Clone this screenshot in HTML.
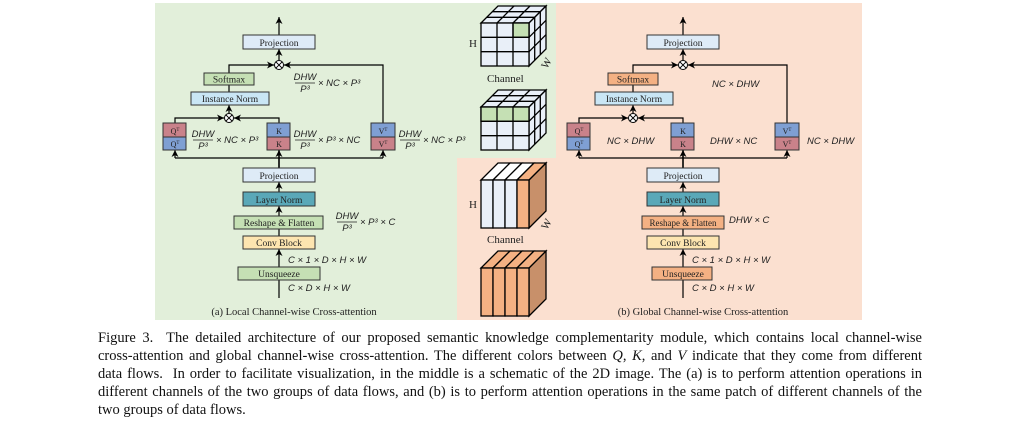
<!DOCTYPE html>
<html><head><meta charset="utf-8"><style>
body{margin:0;background:#fff;width:1018px;height:423px;overflow:hidden;position:relative;font-family:"Liberation Serif",serif}
svg{position:absolute;left:0;top:0}
.cap{position:absolute;left:98px;width:824px;top:329px;font-size:14.5px;line-height:18px;color:#111}
.cap div{text-align:justify;text-align-last:justify;white-space:nowrap;overflow:visible}
.cap div.l{text-align-last:left}
</style></head><body>
<svg width="1018" height="423" viewBox="0 0 1018 423" font-family="Liberation Serif, serif">
<defs>
<marker id="a" markerWidth="8" markerHeight="8" refX="7" refY="4" orient="auto" markerUnits="userSpaceOnUse"><path d="M0,0.5 L7,4 L0,7.5 L2,4z" fill="#000"/></marker>
<g id="ot"><circle cx="0" cy="0" r="4.5" fill="#fff" stroke="#000" stroke-width="1"/><path d="M-3.2,-3.2L3.2,3.2M-3.2,3.2L3.2,-3.2" stroke="#000" stroke-width="1"/></g>
</defs>
<rect x="155" y="3" width="401" height="155" fill="#e2efda"/>
<rect x="155" y="158" width="302" height="162" fill="#e2efda"/>
<rect x="556" y="3" width="306" height="317" fill="#fbe0d0"/>
<rect x="457" y="158" width="99" height="162" fill="#fbe0d0"/>

<g stroke="#000" stroke-width="1.2" fill="none">
<path d="M279,35 V17" marker-end="url(#a)"/>
<path d="M279,60 V49" marker-end="url(#a)"/>
<path d="M229,73 V65 H274" marker-end="url(#a)"/>
<path d="M383,123 V65 H284" marker-end="url(#a)"/>
<path d="M229,92 V85"/>
<path d="M229,113 V105" marker-end="url(#a)"/>
<path d="M175,123 V118 H224" marker-end="url(#a)"/>
<path d="M279,123 V118 H234" marker-end="url(#a)"/>
<path d="M175,158 H383"/>
<path d="M175,158 V150" marker-end="url(#a)"/>
<path d="M279,168 V150" marker-end="url(#a)" stroke-width="1.6"/>
<path d="M383,158 V150" marker-end="url(#a)"/>
<path d="M279,192 V182" marker-end="url(#a)"/>
<path d="M279,216 V206" marker-end="url(#a)"/>
<path d="M279,236 V229"/>
<path d="M279,267 V249" marker-end="url(#a)"/>
<path d="M279,298 V280"/>
</g>
<use href="#ot" x="279" y="65"/><use href="#ot" x="229" y="118"/>
<g stroke="#333" stroke-width="1">
<rect x="243" y="35" width="72" height="14" fill="#deebf7"/>
<rect x="204" y="73" width="50" height="12" fill="#c5e0b4"/>
<rect x="191" y="92" width="78" height="13" fill="#c9e6f5"/>
<rect x="163" y="123" width="23" height="14" fill="#c9828a"/><rect x="163" y="137" width="23" height="13" fill="#7f9fd3"/>
<rect x="267" y="123" width="23" height="14" fill="#7f9fd3"/><rect x="267" y="137" width="23" height="13" fill="#c9828a"/>
<rect x="371" y="123" width="24" height="14" fill="#7f9fd3"/><rect x="371" y="137" width="24" height="13" fill="#c9828a"/>
<rect x="243" y="168" width="72" height="14" fill="#deebf7"/>
<rect x="243" y="192" width="72" height="14" fill="#5aa8b8"/>
<rect x="234" y="216" width="89" height="13" fill="#c5e0b4"/>
<rect x="243" y="236" width="72" height="13" fill="#fde5b0"/>
<rect x="238" y="267" width="82" height="13" fill="#c5e0b4"/>
</g>
<g font-size="9.5" text-anchor="middle" fill="#222">
<text x="279" y="46">Projection</text>
<text x="229" y="82.5">Softmax</text>
<text x="230" y="102">Instance Norm</text>
<text x="175" y="134" font-size="8">Q<tspan dy="-3" font-size="5">T</tspan></text>
<text x="175" y="147" font-size="8">Q<tspan dy="-3" font-size="5">T</tspan></text>
<text x="279" y="134" font-size="8">K</text><text x="279" y="147" font-size="8">K</text>
<text x="383" y="134" font-size="8">V<tspan dy="-3" font-size="5">T</tspan></text>
<text x="383" y="147" font-size="8">V<tspan dy="-3" font-size="5">T</tspan></text>
<text x="279" y="179">Projection</text>
<text x="279" y="203">Layer Norm</text>
<text x="279" y="226">Reshape &amp; Flatten</text>
<text x="279" y="246">Conv Block</text>
<text x="279" y="277">Unsqueeze</text>
<text x="294" y="315" font-size="10.5">(a) Local Channel-wise Cross-attention</text>
</g>
<g font-size="9.5" font-style="italic" fill="#222" font-family="Liberation Sans, sans-serif">
<g transform="translate(295,80)"><text x="10" y="0" text-anchor="middle">DHW</text><path d="M0,3 H20" stroke="#222" stroke-width=".8"/><text x="10" y="12" text-anchor="middle">P³</text><text x="23" y="6">× NC × P³</text></g>
<g transform="translate(193,137)"><text x="10" y="0" text-anchor="middle">DHW</text><path d="M0,3 H20" stroke="#222" stroke-width=".8"/><text x="10" y="12" text-anchor="middle">P³</text><text x="23" y="6">× NC × P³</text></g>
<g transform="translate(295,137)"><text x="10" y="0" text-anchor="middle">DHW</text><path d="M0,3 H20" stroke="#222" stroke-width=".8"/><text x="10" y="12" text-anchor="middle">P³</text><text x="23" y="6">× P³ × NC</text></g>
<g transform="translate(400,137)"><text x="10" y="0" text-anchor="middle">DHW</text><path d="M0,3 H20" stroke="#222" stroke-width=".8"/><text x="10" y="12" text-anchor="middle">P³</text><text x="23" y="6">× NC × P³</text></g>
<g transform="translate(337,219)"><text x="10" y="0" text-anchor="middle">DHW</text><path d="M0,3 H20" stroke="#222" stroke-width=".8"/><text x="10" y="12" text-anchor="middle">P³</text><text x="23" y="6">× P³ × C</text></g>
<text x="288" y="263">C × 1 × D × H × W</text>
<text x="288" y="291">C × D × H × W</text>
<text x="712" y="87">NC × DHW</text>
<text x="607" y="144">NC × DHW</text>
<text x="710" y="144">DHW × NC</text>
<text x="807" y="144">NC × DHW</text>
<text x="729" y="223">DHW × C</text>
<text x="692" y="263">C × 1 × D × H × W</text>
<text x="692" y="291">C × D × H × W</text>
</g>

<g transform="translate(404,0)">
<g stroke="#000" stroke-width="1.2" fill="none">
<path d="M279,35 V17" marker-end="url(#a)"/>
<path d="M279,60 V49" marker-end="url(#a)"/>
<path d="M229,73 V65 H274" marker-end="url(#a)"/>
<path d="M383,123 V65 H284" marker-end="url(#a)"/>
<path d="M229,92 V85"/>
<path d="M229,113 V105" marker-end="url(#a)"/>
<path d="M175,123 V118 H224" marker-end="url(#a)"/>
<path d="M279,123 V118 H234" marker-end="url(#a)"/>
<path d="M175,158 H383"/>
<path d="M175,158 V150" marker-end="url(#a)"/>
<path d="M279,168 V150" marker-end="url(#a)" stroke-width="1.6"/>
<path d="M383,158 V150" marker-end="url(#a)"/>
<path d="M279,192 V182" marker-end="url(#a)"/>
<path d="M279,216 V206" marker-end="url(#a)"/>
<path d="M279,236 V229"/>
<path d="M279,267 V249" marker-end="url(#a)"/>
<path d="M279,298 V280"/>
</g>
<use href="#ot" x="279" y="65"/><use href="#ot" x="229" y="118"/>
<g stroke="#333" stroke-width="1">
<rect x="243" y="35" width="72" height="14" fill="#deebf7"/>
<rect x="204" y="73" width="50" height="12" fill="#f4b183"/>
<rect x="191" y="92" width="78" height="13" fill="#c9e6f5"/>
<rect x="163" y="123" width="23" height="14" fill="#c9828a"/><rect x="163" y="137" width="23" height="13" fill="#7f9fd3"/>
<rect x="267" y="123" width="23" height="14" fill="#7f9fd3"/><rect x="267" y="137" width="23" height="13" fill="#c9828a"/>
<rect x="371" y="123" width="24" height="14" fill="#7f9fd3"/><rect x="371" y="137" width="24" height="13" fill="#c9828a"/>
<rect x="243" y="168" width="72" height="14" fill="#deebf7"/>
<rect x="243" y="192" width="72" height="14" fill="#5aa8b8"/>
<rect x="238" y="216" width="82" height="13" fill="#f4b183"/>
<rect x="243" y="236" width="72" height="13" fill="#fde5b0"/>
<rect x="248" y="267" width="60" height="13" fill="#f4b183"/>
</g>
<g font-size="9.5" text-anchor="middle" fill="#222">
<text x="279" y="46">Projection</text>
<text x="229" y="82.5">Softmax</text>
<text x="230" y="102">Instance Norm</text>
<text x="175" y="134" font-size="8">Q<tspan dy="-3" font-size="5">T</tspan></text>
<text x="175" y="147" font-size="8">Q<tspan dy="-3" font-size="5">T</tspan></text>
<text x="279" y="134" font-size="8">K</text><text x="279" y="147" font-size="8">K</text>
<text x="383" y="134" font-size="8">V<tspan dy="-3" font-size="5">T</tspan></text>
<text x="383" y="147" font-size="8">V<tspan dy="-3" font-size="5">T</tspan></text>
<text x="279" y="179">Projection</text>
<text x="279" y="203">Layer Norm</text>
<text x="279" y="226" font-size="9">Reshape &amp; Flatten</text>
<text x="279" y="246">Conv Block</text>
<text x="279" y="277">Unsqueeze</text>
<text x="299" y="315" font-size="10.5">(b) Global Channel-wise Cross-attention</text>
</g>
</g>

<g stroke="#000" stroke-width="1.3">
<polygon points="481,23 529,23 546,6 498,6" fill="#e9eff8"/>
<polygon points="529,23 546,6 546,49 529,66" fill="#e9eff8"/>
<rect x="481" y="23" width="48" height="43" fill="#e9eff8"/>
<rect x="513" y="23" width="16" height="14.3" fill="#c5e0b4"/>
<path d="M497,23 L514,6 M513,23 L530,6 M486.7,17.3 H534.7 M492.3,11.7 H540.3 M534.7,17.3 V60.3 M540.3,11.7 V54.3 M529,37.3 L546,20.3 M529,51.7 L546,34.7 M497,23 V66 M513,23 V66 M481,37.3 H529 M481,51.7 H529" fill="none"/>
</g>
<g transform="translate(0,84)" stroke="#000" stroke-width="1.3">
<polygon points="481,23 529,23 546,6 498,6" fill="#e9eff8"/>
<polygon points="529,23 546,6 546,49 529,66" fill="#e9eff8"/>
<rect x="481" y="23" width="48" height="43" fill="#e9eff8"/>
<rect x="481" y="23" width="48" height="14.3" fill="#c5e0b4"/>
<path d="M497,23 L514,6 M513,23 L530,6 M486.7,17.3 H534.7 M492.3,11.7 H540.3 M534.7,17.3 V60.3 M540.3,11.7 V54.3 M529,37.3 L546,20.3 M529,51.7 L546,34.7 M497,23 V66 M513,23 V66 M481,37.3 H529 M481,51.7 H529" fill="none"/>
</g>
<g stroke="#000" stroke-width="1.3">
<polygon points="529,180 546,163 546,211 529,228" fill="#c8906a"/>
<polygon points="481,180 493,180 510,163 498,163" fill="#fff"/>
<polygon points="493,180 505,180 522,163 510,163" fill="#fff"/>
<polygon points="505,180 517,180 534,163 522,163" fill="#fff"/>
<polygon points="517,180 529,180 546,163 534,163" fill="#f4b183"/>
<rect x="481" y="180" width="12" height="48" fill="#e9eff8"/>
<rect x="493" y="180" width="12" height="48" fill="#e9eff8"/>
<rect x="505" y="180" width="12" height="48" fill="#e9eff8"/>
<rect x="517" y="180" width="12" height="48" fill="#f4b183"/>
</g>
<g stroke="#000" stroke-width="1.3">
<polygon points="529,268 546,251 546,299 529,316" fill="#c8906a"/>
<polygon points="481,268 493,268 510,251 498,251" fill="#f4b183"/>
<polygon points="493,268 505,268 522,251 510,251" fill="#f4b183"/>
<polygon points="505,268 517,268 534,251 522,251" fill="#f4b183"/>
<polygon points="517,268 529,268 546,251 534,251" fill="#f4b183"/>
<rect x="481" y="268" width="12" height="48" fill="#f4b183"/>
<rect x="493" y="268" width="12" height="48" fill="#f4b183"/>
<rect x="505" y="268" width="12" height="48" fill="#f4b183"/>
<rect x="517" y="268" width="12" height="48" fill="#f4b183"/>
</g>
<g font-size="11" fill="#222">
<text x="469" y="47">H</text><text x="487" y="82">Channel</text>
<text x="541" y="67" transform="rotate(-60 546 63)">W</text>
<text x="469" y="208">H</text><text x="487" y="243">Channel</text>
<text x="541" y="228" transform="rotate(-60 546 224)">W</text>
</g>
</svg>
<div class="cap">
<div>Figure 3.&nbsp; The detailed architecture of our proposed semantic knowledge complementarity module, which contains local channel-wise</div>
<div>cross-attention and global channel-wise cross-attention. The different colors between <i>Q</i>, <i>K</i>, and <i>V</i> indicate that they come from different</div>
<div>data flows.&nbsp; In order to facilitate visualization, in the middle is a schematic of the 2D image. The (a) is to perform attention operations in</div>
<div>different channels of the two groups of data flows, and (b) is to perform attention operations in the same patch of different channels of the</div>
<div class="l">two groups of data flows.</div>
</div>
</body></html>
